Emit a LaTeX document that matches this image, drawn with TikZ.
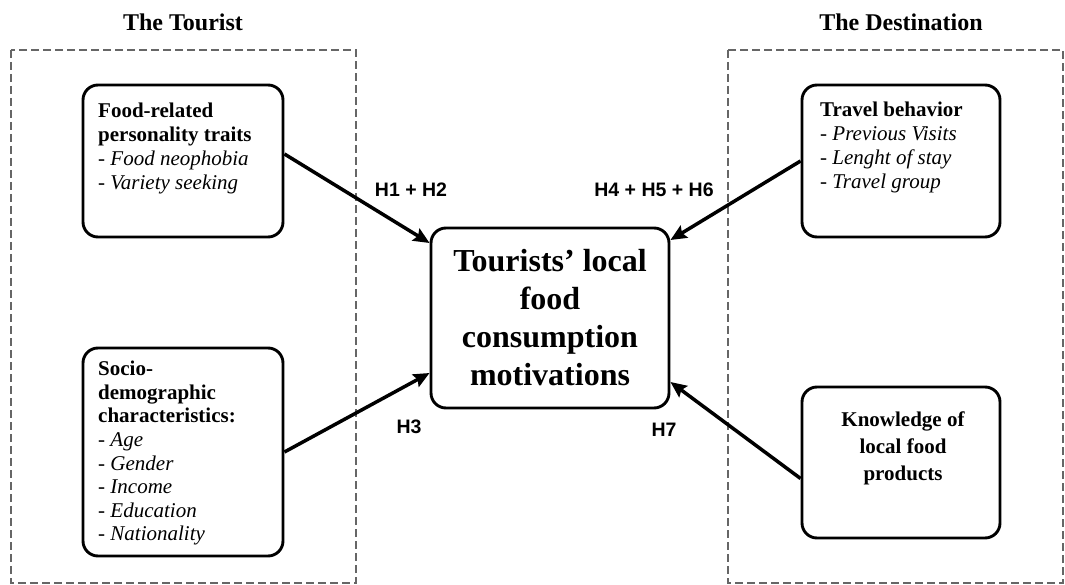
\documentclass[tikz,border=0pt]{standalone}
\usepackage{fontspec}
\setmainfont{Liberation Serif}
\newfontfamily\hypfont{Liberation Sans}
\usetikzlibrary{arrows.meta}

\begin{document}
\begin{tikzpicture}[x=1pt,y=-1pt,>={Stealth[length=16pt,width=14pt,inset=2.5pt]},
	group/.style={draw=black!60,line width=2.4pt,dash pattern=on 8pt off 4pt},
	title/.style={inner sep=0pt,font=\fontsize{24}{28}\selectfont\bfseries},
	box/.style={draw,line width=2.9pt,rounded corners=15pt},
	txt/.style={inner sep=0pt,anchor=north west,align=left,font=\fontsize{21}{24}\selectfont},
	hyp/.style={inner sep=0pt,font=\hypfont\fontsize{19.5}{22}\selectfont\bfseries},
	link/.style={->,line width=3.5pt}]
		\useasboundingbox (0,0) rectangle (1065,585);
		\draw[group](11,50) rectangle (356,583);
		\draw[group](728,50) rectangle (1063,583);
		\node[title] (ttourist) at (183,22) {The Tourist};
		\node[title] (tdest) at (901,22) {The Destination};
		\node[box,minimum width=200pt,minimum height=152pt] (food) at (183,161) {};
		\node[box,minimum width=200pt,minimum height=208pt] (socio) at (183,452) {};
		\node[box,minimum width=198pt,minimum height=152pt] (travel) at (901,161) {};
		\node[box,minimum width=198pt,minimum height=151pt] (know) at (901,462.5) {};
		\node[box,minimum width=238pt,minimum height=180pt,align=center,
			font=\fontsize{32}{38}\selectfont\bfseries] (main) at (550,318)
			{Tourists’ local\\food\\consumption\\motivations};
		\node[txt] (foodtxt) at (98,103) {\textbf{Food-related}\\\textbf{personality traits}\\- \textit{Food neophobia}\\- \textit{Variety seeking}};
		\node[txt,font=\fontsize{21}{23.6}\selectfont] (sociotxt) at (98,361) {\textbf{Socio-}\\\textbf{demographic}\\\textbf{characteristics:}\\- \textit{Age}\\- \textit{Gender}\\- \textit{Income}\\- \textit{Education}\\- \textit{Nationality}};
		\node[txt] (traveltxt) at (820,102) {\textbf{Travel behavior}\\- \textit{Previous Visits}\\- \textit{Lenght of stay}\\- \textit{Travel group}};
		\node[txt,anchor=north,align=center,font=\fontsize{21}{26.7}\selectfont\bfseries] (knowtxt) at (903,412) {Knowledge of\\local food\\products};
		\draw[link] ([yshift=7pt]food.east) -- ([yshift=75pt]main.west);
		\draw[link] (socio.east) -- ([yshift=-55pt]main.west);
		\draw[link] (travel.west) -- ([yshift=78pt]main.east);
		\draw[link] ([yshift=-16pt]know.west) -- ([yshift=-64pt]main.east);
		\node[hyp] (h12) at (411,190) {H1 + H2};
		\node[hyp] (h456) at (654,190) {H4 + H5 + H6};
		\node[hyp] (h3) at (409,427) {H3};
		\node[hyp] (h7) at (664,430) {H7};
	\end{tikzpicture}
\end{document}
